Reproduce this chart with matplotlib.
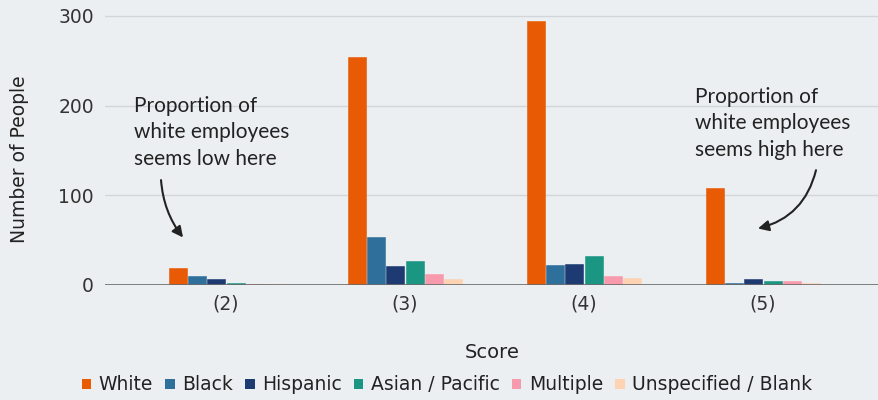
import numpy as np
import matplotlib
matplotlib.use("Agg")
import matplotlib.pyplot as plt
from matplotlib.patches import Patch

plt.rcParams["font.family"] = ["DejaVu Sans"]

scores = ["(2)", "(3)", "(4)", "(5)"]
groups = ["White", "Black", "Hispanic", "Asian / Pacific", "Multiple", "Unspecified / Blank"]
white = [19, 254, 294, 108]
black = [10, 54, 22, 2]
hispanic = [7, 21, 23, 7]
asian = [2, 27, 32, 5]
multiple = [1, 12, 10, 4]
unspecified = [1, 7, 8, 2]
colors = ["#e85a04", "#2e6f9b", "#1e3a72", "#1a9683", "#f89aad", "#fdd3b4"]

series = [white, black, hispanic, asian, multiple, unspecified]

bg = "#eceff1"
fig = plt.figure(figsize=(8.79, 4.0), dpi=100, facecolor=bg)
ax = fig.add_axes([105 / 879, 1 - 285 / 400, 774 / 879, 285 / 400], facecolor=bg)

x = np.arange(len(scores))
pitch = 0.108
width = 0.1
for i, (vals, c) in enumerate(zip(series, colors)):
    ax.bar(x + (i - 2.5) * pitch, vals, width=width, color=c,
           edgecolor=c, linewidth=0.4, zorder=3)

ax.set_xlim(-0.676, 3.648)
ax.set_ylim(0, 317.8)
ax.set_yticks([0, 100, 200, 300])
ax.set_xticks(x)
ax.set_xticklabels(scores)
ax.tick_params(axis="both", length=0, labelsize=13.5, colors="#333333")
ax.tick_params(axis="y", pad=8)
ax.tick_params(axis="x", pad=7)
ax.grid(axis="y", color="#d2d6d9", linewidth=1.0, zorder=0)
ax.axhline(0, color="#6b6b6b", linewidth=1.2, zorder=4)
for s in ax.spines.values():
    s.set_visible(False)

ax.set_ylabel("Number of People", fontsize=13.5, color="#222222")
ax.yaxis.set_label_coords(-0.098, 0.44)
ax.set_xlabel("Score", fontsize=14, color="#222222")
ax.xaxis.set_label_coords(0.5, -0.205)

handles = [Patch(facecolor=c, edgecolor="none") for c in colors]
fig.legend(handles, groups, loc="center", bbox_to_anchor=(447 / 879, 15 / 400),
           ncol=6, frameon=False, fontsize=13.5, handlelength=0.5, handleheight=0.5,
           handletextpad=0.4, columnspacing=0.65, labelcolor="#222222")

note_font = dict(family="Lato", fontsize=15, color="#222222", linespacing=1.4)
ax.text(-0.514, 211, "Proportion of\nwhite employees\nseems low here", va="top", ha="left", **note_font)
ax.text(2.620, 221, "Proportion of\nwhite employees\nseems high here", va="top", ha="left", **note_font)

arrow = dict(arrowstyle="-|>", color="#222222", lw=1.5, mutation_scale=16,
             shrinkA=0, shrinkB=0)
ax.annotate("", xy=(-0.240, 53), xytext=(-0.363, 117),
            arrowprops=dict(connectionstyle="arc3,rad=0.15", **arrow))
ax.annotate("", xy=(2.972, 63), xytext=(3.296, 128),
            arrowprops=dict(connectionstyle="arc3,rad=-0.3", **arrow))

fig.savefig("out.png", dpi=100, facecolor=bg)
